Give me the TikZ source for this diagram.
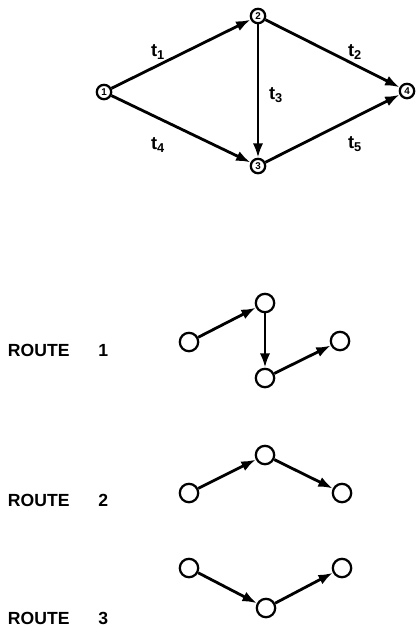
\documentclass[tikz,border=0pt]{standalone}
\usepackage{fontspec}
\setsansfont{Liberation Sans}
\usepackage{tikz}
\usetikzlibrary{arrows.meta,positioning}

\begin{document}
\begin{tikzpicture}[
    x=0.025cm, y=-0.025cm,
    nd/.style={draw, circle, line width=1.6pt, minimum size=0.36cm, inner sep=0pt, font=\sffamily\bfseries\fontsize{7}{7}\selectfont},
    rn/.style={draw, circle, line width=1.6pt, minimum size=0.46cm, inner sep=0pt},
    ed/.style={line width=2pt, -{Latex[length=3.6mm,width=2.6mm]}},
    tl/.style={font=\sffamily\bfseries\fontsize{13}{15}\selectfont},
    route/.style={anchor=west, font=\sffamily\bfseries\fontsize{12.5}{15}\selectfont},
]
\useasboundingbox (0,0) rectangle (416,627);

% Network
\node[nd] (n1) at (104,92) {1};
\node[nd] (n2) at (258,16) {2};
\node[nd] (n3) at (258,166) {3};
\node[nd] (n4) at (407,91) {4};

\draw[ed] (n1) -- (n2);
\draw[ed] (n2) -- (n4);
\draw[ed] (n2) -- (n3);
\draw[ed] (n1) -- (n3);
\draw[ed] (n3) -- (n4);

\node[tl] (t1) at (158,52) {t\textsubscript{1}};
\node[tl] (t2) at (355,52) {t\textsubscript{2}};
\node[tl] (t3) at (276,95) {t\textsubscript{3}};
\node[tl] (t4) at (158,145) {t\textsubscript{4}};
\node[tl] (t5) at (355,144) {t\textsubscript{5}};

% Route 1
\node[route] (lab1) at (3,350) {ROUTE\hspace{0.72cm}1};
\node[rn] (r1a) at (189,342) {};
\node[rn] (r1b) at (265,303) {};
\node[rn] (r1c) at (265,378) {};
\node[rn] (r1d) at (340,341) {};
\draw[ed] (r1a) -- (r1b);
\draw[ed] (r1b) -- (r1c);
\draw[ed] (r1c) -- (r1d);

% Route 2
\node[route] (lab2) at (3,500) {ROUTE\hspace{0.72cm}2};
\node[rn] (r2a) at (189,493) {};
\node[rn] (r2b) at (265,455) {};
\node[rn] (r2c) at (342,493) {};
\draw[ed] (r2a) -- (r2b);
\draw[ed] (r2b) -- (r2c);

% Route 3
\node[route] (lab3) at (3,618) {ROUTE\hspace{0.72cm}3};
\node[rn] (r3a) at (189,568) {};
\node[rn] (r3b) at (266,608) {};
\node[rn] (r3c) at (342,568) {};
\draw[ed] (r3a) -- (r3b);
\draw[ed] (r3b) -- (r3c);

\end{tikzpicture}
\end{document}
